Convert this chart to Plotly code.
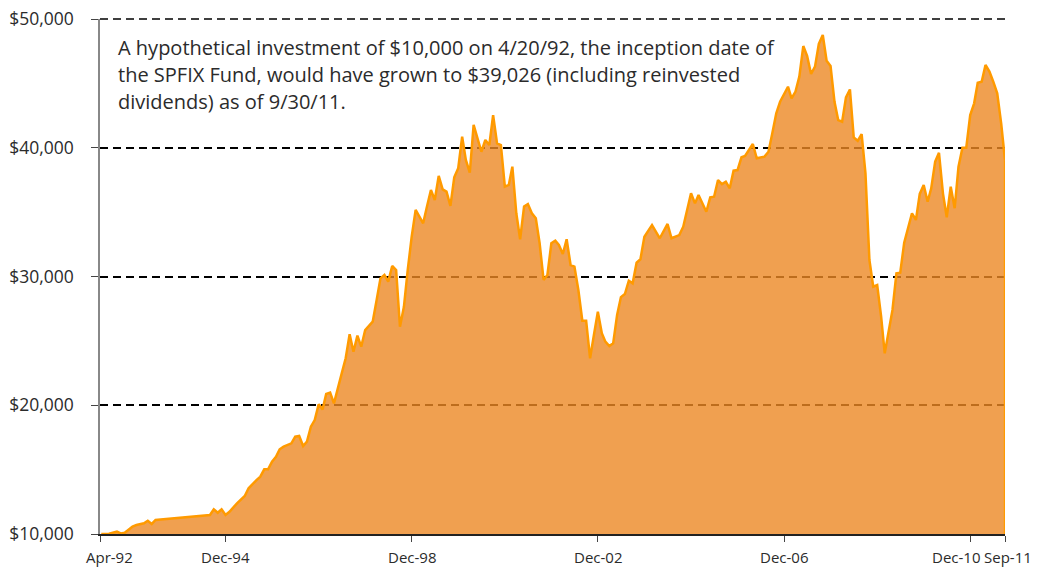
import pandas as pd
import plotly.graph_objects as go

# Month of each observation (month-end values) and growth of $10,000
months = [
    "1992-04", "1992-06", "1992-08", "1992-09", "1992-10", "1992-12", "1993-01", "1993-03",
    "1993-04", "1993-05", "1993-06", "1994-08", "1994-09", "1994-10", "1994-11", "1994-12",
    "1995-01", "1995-03", "1995-05", "1995-06", "1995-08", "1995-09", "1995-10", "1995-11",
    "1995-12", "1996-01", "1996-02", "1996-03", "1996-05", "1996-06", "1996-07", "1996-08",
    "1996-09", "1996-10", "1996-11", "1996-12", "1997-01", "1997-02", "1997-03", "1997-04",
    "1997-06", "1997-07", "1997-08", "1997-09", "1997-10", "1997-11", "1997-12", "1998-01",
    "1998-02", "1998-03", "1998-04", "1998-05", "1998-06", "1998-07", "1998-08", "1998-09",
    "1998-10", "1998-11", "1998-12", "1999-01", "1999-03", "1999-04", "1999-05", "1999-06",
    "1999-07", "1999-08", "1999-09", "1999-10", "1999-11", "1999-12", "2000-01", "2000-02",
    "2000-03", "2000-04", "2000-05", "2000-06", "2000-07", "2000-08", "2000-09", "2000-10",
    "2000-11", "2000-12", "2001-01", "2001-02", "2001-03", "2001-04", "2001-05", "2001-06",
    "2001-07", "2001-08", "2001-09", "2001-10", "2001-11", "2001-12", "2002-01", "2002-02",
    "2002-03", "2002-04", "2002-05", "2002-06", "2002-07", "2002-08", "2002-09", "2002-10",
    "2002-11", "2002-12", "2003-01", "2003-02", "2003-03", "2003-04", "2003-05", "2003-06",
    "2003-07", "2003-08", "2003-09", "2003-10", "2003-11", "2003-12", "2004-02", "2004-04",
    "2004-06", "2004-07", "2004-09", "2004-10", "2004-12", "2005-01", "2005-02", "2005-04",
    "2005-05", "2005-06", "2005-07", "2005-08", "2005-09", "2005-10", "2005-11", "2005-12",
    "2006-01", "2006-02", "2006-04", "2006-05", "2006-07", "2006-08", "2006-09", "2006-10",
    "2006-11", "2007-01", "2007-02", "2007-03", "2007-04", "2007-05", "2007-06", "2007-07",
    "2007-08", "2007-09", "2007-10", "2007-11", "2007-12", "2008-01", "2008-02", "2008-03",
    "2008-04", "2008-05", "2008-06", "2008-07", "2008-08", "2008-09", "2008-10", "2008-11",
    "2008-12", "2009-01", "2009-02", "2009-04", "2009-05", "2009-06", "2009-07", "2009-08",
    "2009-09", "2009-10", "2009-11", "2009-12", "2010-01", "2010-02", "2010-03", "2010-04",
    "2010-05", "2010-06", "2010-07", "2010-08", "2010-09", "2010-10", "2010-11", "2010-12",
    "2011-01", "2011-02", "2011-03", "2011-04", "2011-05", "2011-06", "2011-07", "2011-08",
    "2011-09",
]
values = [
    10000, 10020, 10180, 10050, 10100, 10570, 10700, 10830,
    11030, 10780, 11090, 11480, 11920, 11650, 11920, 11480,
    11730, 12380, 12950, 13550, 14190, 14450, 15020, 15020,
    15620, 16000, 16580, 16780, 17040, 17560, 17610, 16830,
    17170, 18330, 18850, 20070, 19680, 20870, 20980, 20150,
    22480, 23650, 25510, 24160, 25410, 24550, 25840, 26210,
    26490, 28170, 29860, 30120, 29600, 30820, 30510, 26100,
    27650, 30510, 33090, 35170, 34130, 35430, 36720, 35940,
    37810, 36770, 36590, 35480, 37700, 38400, 40860, 39050,
    38060, 41770, 40600, 39690, 40600, 40210, 42540, 40340,
    40210, 36980, 37110, 38530, 34910, 32890, 35430, 35630,
    34910, 34520, 32580, 29730, 30120, 32580, 32780, 32450,
    31750, 32890, 30890, 30760, 28950, 26570, 26570, 23650,
    25460, 27270, 25590, 24940, 24600, 24810, 27010, 28400,
    28640, 29670, 29470, 31070, 31340, 33090, 34000, 32970,
    34080, 32970, 33220, 33870, 36460, 35680, 36330, 35030,
    36150, 36200, 37490, 37180, 37360, 36850, 38220, 38270,
    39260, 39360, 40290, 39180, 39310, 39690, 41120, 42670,
    43570, 44740, 43840, 44360, 45520, 47900, 47130, 45730,
    46300, 48060, 48760, 46760, 46350, 43570, 42150, 42020,
    43910, 44530, 40800, 40540, 41060, 38010, 31280, 29210,
    29340, 26880, 24030, 27400, 30250, 30300, 32630, 33870,
    34910, 34390, 36410, 37110, 35810, 36850, 38920, 39610,
    36460, 34600, 36980, 35300, 38530, 40000, 40000, 42540,
    43450, 45050, 45130, 46430, 45910, 45130, 44230, 41900,
    39026,
]

tick_dates = ["1992-04-20", "1994-12-31", "1998-12-31", "2002-12-31",
              "2006-12-31", "2010-12-31", "2011-09-30"]
tick_labels = ["Apr-92", "Dec-94", "Dec-98", "Dec-02", "Dec-06", "Dec-10", "Sep-11"]
tick_label_nudge = [9, 0, 0, 0, 0, -14, 3]   # px, as the labels sit in the reference
y_ticks = [10000, 20000, 30000, 40000, 50000]
y_labels = ["$10,000", "$20,000", "$30,000", "$40,000", "$50,000"]

note_lines = [
    "A hypothetical investment of $10,000 on 4/20/92, the inception date of",
    "the SPFIX Fund, would have grown to $39,026 (including reinvested",
    "dividends) as of 9/30/11.",
]

dates = pd.to_datetime(months) + pd.offsets.MonthEnd(0)
Y_MIN, Y_MAX = 10000, 50000
FONT = "Open Sans"
TXT = "#2b2b2b"
LINE = "#FF9A00"
GRID = dict(color="#000000", width=1.5, dash="8px,5px")

fig = go.Figure()
fig.add_trace(go.Scatter(
    x=dates, y=values, mode="lines", fill="tozeroy",
    fillcolor="rgba(236,136,36,0.8)",
    line=dict(color=LINE, width=2.5), hoverinfo="skip", showlegend=False,
))
# closing edge of the area at the last observation
fig.add_trace(go.Scatter(
    x=[dates[-1], dates[-1]], y=[values[-1], Y_MIN], mode="lines",
    line=dict(color=LINE, width=2.5), hoverinfo="skip", showlegend=False,
))

# top grid line (plotly drops the grid line lying on the plot edge)
fig.add_shape(type="line", xref="paper", yref="paper", x0=0, x1=1, y0=1, y1=1,
              line=GRID, layer="below")

for i, line in enumerate(note_lines):
    fig.add_annotation(
        xref="paper", yref="paper", x=0.018, y=0.974, yshift=-27 * i,
        xanchor="left", yanchor="top", showarrow=False, align="left",
        text=line, font=dict(family=FONT, size=20, color=TXT),
    )

for d, lab, dx in zip(tick_dates, tick_labels, tick_label_nudge):
    fig.add_annotation(
        x=d, xref="x", yref="paper", y=0, yshift=-11, xshift=dx,
        xanchor="center", yanchor="top", showarrow=False,
        text=lab, font=dict(family=FONT, size=15, color=TXT),
    )

# the page adds an 8px body margin, so the figure is sized to fit inside it
fig.update_layout(
    width=1031, height=559,
    margin=dict(l=92, r=34, t=11, b=33),
    paper_bgcolor="white", plot_bgcolor="white",
    font=dict(family=FONT, color=TXT),
    xaxis=dict(
        type="date", range=[tick_dates[0], tick_dates[-1]],
        tickmode="array", tickvals=tick_dates, showticklabels=False,
        showgrid=False, zeroline=False, automargin=False,
        showline=True, linecolor="#222222", linewidth=1.5,
        ticks="outside", ticklen=6, tickcolor="#444444", tickwidth=1,
        layer="below traces",
    ),
    yaxis=dict(
        range=[Y_MIN, Y_MAX], tickmode="array", tickvals=y_ticks, ticktext=y_labels,
        showgrid=True, gridcolor=GRID["color"], gridwidth=GRID["width"],
        griddash=GRID["dash"],
        zeroline=False, showline=True, linecolor="#888888", linewidth=1.5,
        ticks="outside", ticklen=7, tickcolor="#444444", tickwidth=1,
        tickfont=dict(size=17.5, color=TXT), ticklabelstandoff=14, automargin=False,
        ticklabeloverflow="allow",
        layer="below traces",
    ),
)

fig.write_html("out.html")
